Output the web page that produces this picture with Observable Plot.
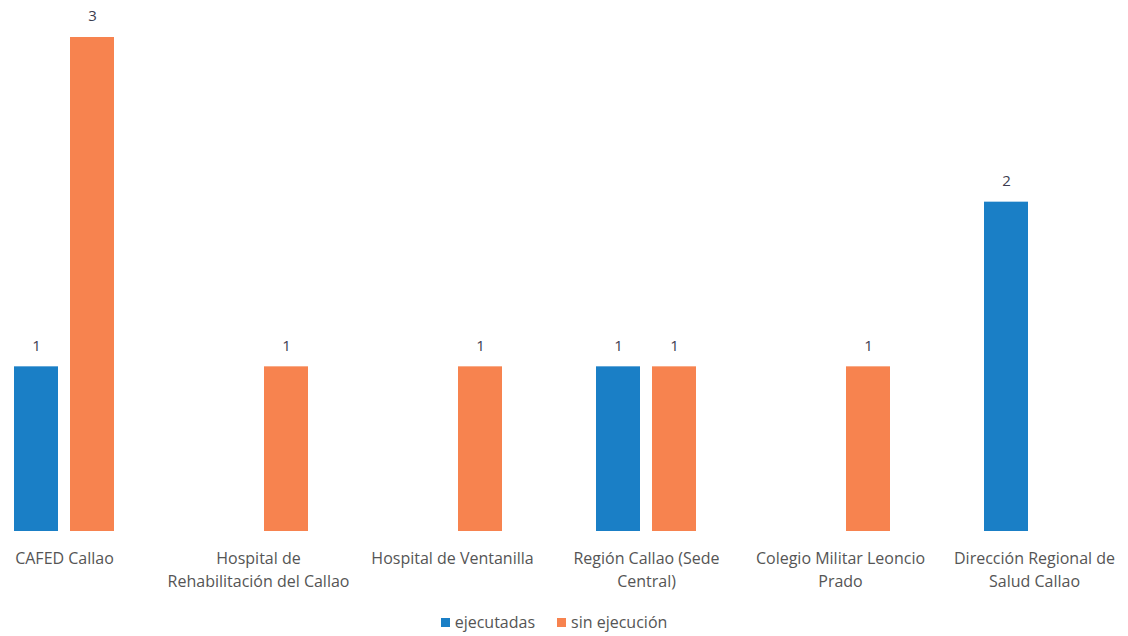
<!DOCTYPE html>
<html>
<head>
<meta charset="utf-8">
<script src="https://cdn.jsdelivr.net/npm/d3@7"></script>
<script src="https://cdn.jsdelivr.net/npm/@observablehq/plot@0.6"></script>
<style>
  html, body { margin: 0; padding: 0; background: #fff; overflow: hidden; }
  #chart svg { display: block; overflow: visible; }
  .legend { display: flex; justify-content: center; align-items: center; gap: 22px;
    font-family: "Open Sans", sans-serif; font-size: 16px; color: #555; height: 36px; margin-top: 4px; padding-right: 20px; }
  .legend span.sw { display: inline-block; width: 9px; height: 9px; margin-right: 5px; }
  .legend .item { display: flex; align-items: center; }
</style>
</head>
<body>
<div id="chart"></div>
<div class="legend">
  <div class="item"><span class="sw" style="background:#1a7fc6"></span>ejecutadas</div>
  <div class="item"><span class="sw" style="background:#f7834f"></span>sin ejecución</div>
</div>
<script>
const categories = [
  "CAFED Callao",
  "Hospital de Rehabilitación del Callao",
  "Hospital de Ventanilla",
  "Región Callao (Sede Central)",
  "Colegio Militar Leoncio Prado",
  "Dirección Regional de Salud Callao"
];
const tickLabels = [
  "CAFED Callao",
  "Hospital de\nRehabilitación del Callao",
  "Hospital de Ventanilla",
  "Región Callao (Sede\nCentral)",
  "Colegio Militar Leoncio\nPrado",
  "Dirección Regional de\nSalud Callao"
];
const ejecutadas = [1, 0, 0, 1, 0, 2];
const sinEjecucion = [3, 1, 1, 1, 1, 0];

const blue = "#1a7fc6";
const orange = "#f7834f";

const rowsE = categories.map((c, i) => ({cat: c, value: ejecutadas[i]})).filter(d => d.value > 0);
const rowsS = categories.map((c, i) => ({cat: c, value: sinEjecucion[i]})).filter(d => d.value > 0);

const chart = Plot.plot({
  width: 1128,
  height: 600,
  marginTop: 37,
  marginBottom: 69,
  marginLeft: 0,
  marginRight: 0,
  style: {fontFamily: "'Open Sans', sans-serif", background: "transparent", overflow: "visible"},
  x: {domain: categories, range: [-33, 1131], padding: 0},
  y: {domain: [0, 3], range: [531, 37], axis: null},
  marks: [
    Plot.barY(rowsE, {x: "cat", y: "value", fill: blue, insetLeft: 47, insetRight: 103}),
    Plot.barY(rowsS, {x: "cat", y: "value", fill: orange, insetLeft: 103, insetRight: 47}),
    Plot.text(rowsE, {x: "cat", y: "value", text: d => String(d.value), dx: -28, dy: -21, fontSize: 15, fill: "#3c3c50"}),
    Plot.text(rowsS, {x: "cat", y: "value", text: d => String(d.value), dx: 28, dy: -21, fontSize: 15, fill: "#3c3c50"}),
    Plot.axisX({
      tickSize: 0,
      tickPadding: 17,
      fontSize: 16,
      lineHeight: 1.4,
      color: "#555",
      tickFormat: (d) => tickLabels[categories.indexOf(d)],
      label: null
    })
  ]
});
document.getElementById("chart").appendChild(chart);
</script>
</body>
</html>
